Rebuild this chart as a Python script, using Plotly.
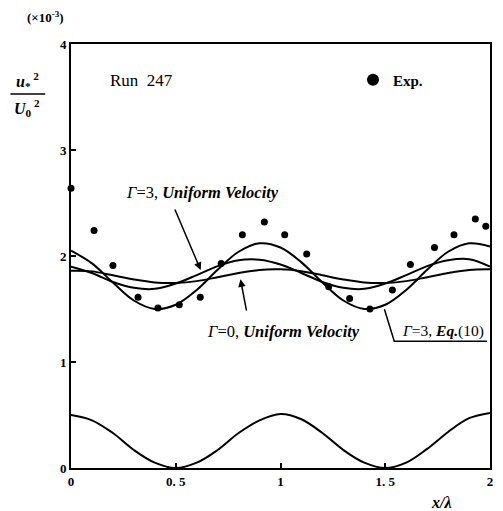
import plotly.graph_objects as go

# ---------------- data ----------------
x_grid = [0.0, 0.1, 0.2, 0.3, 0.4, 0.5, 0.6, 0.7, 0.8, 0.9, 1.0,
          1.1, 1.2, 1.3, 1.4, 1.5, 1.6, 1.7, 1.8, 1.9, 2.0]

gamma3_eq10 = [2.05, 1.93, 1.75, 1.58, 1.50, 1.54, 1.68, 1.87, 2.04, 2.12, 2.08,
               1.94, 1.75, 1.58, 1.50, 1.54, 1.68, 1.87, 2.04, 2.12, 2.09]

gamma3_uniform = [1.90, 1.84, 1.755, 1.70, 1.69, 1.74, 1.82, 1.905, 1.96, 1.965, 1.92,
                  1.84, 1.755, 1.70, 1.69, 1.74, 1.82, 1.905, 1.96, 1.97, 1.90]

gamma0_uniform = [1.86, 1.855, 1.818, 1.779, 1.751, 1.746, 1.763, 1.80, 1.84, 1.869, 1.874,
                  1.857, 1.818, 1.779, 1.751, 1.746, 1.763, 1.80, 1.84, 1.869, 1.874]

surface = [0.50, 0.45, 0.33, 0.17, 0.05, 0.0, 0.05, 0.17, 0.33, 0.45, 0.51,
           0.46, 0.33, 0.17, 0.05, 0.0, 0.05, 0.18, 0.34, 0.47, 0.52]

exp_x = [0.00, 0.11, 0.20, 0.32, 0.415, 0.517, 0.617, 0.717, 0.818, 0.923, 1.02,
         1.125, 1.23, 1.33, 1.427, 1.534, 1.62, 1.735, 1.828, 1.93, 1.98]
exp_y = [2.64, 2.24, 1.91, 1.61, 1.51, 1.54, 1.61, 1.93, 2.20, 2.32, 2.20,
         2.02, 1.71, 1.60, 1.50, 1.68, 1.92, 2.08, 2.20, 2.35, 2.28]

x_ticks = [0, 0.5, 1, 1.5, 2]
x_tick_labels = ["0", "0. 5", "1", "1. 5", "2"]
y_ticks = [0, 1, 2, 3, 4]
y_tick_labels = ["0", "1", "2", "3", "4"]

# ---------------- figure ----------------
SERIF = "Liberation Serif"
fig = go.Figure()

line_style = dict(color="black", width=2, shape="spline")
for name, ys in [("Γ=3, Eq.(10)", gamma3_eq10),
                 ("Γ=3, Uniform Velocity", gamma3_uniform),
                 ("Γ=0, Uniform Velocity", gamma0_uniform),
                 ("surface", surface)]:
    fig.add_trace(go.Scatter(x=x_grid, y=ys, mode="lines", line=line_style,
                             name=name, showlegend=False, hoverinfo="skip"))

fig.add_trace(go.Scatter(x=exp_x, y=exp_y, mode="markers", name="<b>Exp.</b>",
                         marker=dict(color="black", size=7), showlegend=True,
                         cliponaxis=False))

axis_common = dict(showgrid=False, zeroline=False, showline=True, linecolor="black",
                   linewidth=2, mirror=True, ticks="inside", ticklen=5,
                   tickcolor="black", tickwidth=1.5,
                   tickfont=dict(family=SERIF, size=13, color="black"))

fig.update_xaxes(range=[0, 2], tickvals=x_ticks,
                 ticktext=["<b>%s</b>" % t for t in x_tick_labels], **axis_common)
fig.update_yaxes(range=[0, 4], tickvals=y_ticks,
                 ticktext=["<b>%s</b>" % t for t in y_tick_labels], **axis_common)

ann = []
txt_font = dict(family=SERIF, size=16.5, color="black")
C = dict(xanchor="center", yanchor="middle", showarrow=False)
ann.append(dict(x=0.336, y=3.66, xref="x", yref="y", text="Run  247",
                font=dict(family=SERIF, size=17, color="black"), **C))
ann.append(dict(x=0.628, y=2.60, xref="x", yref="y",
                text="<i>Γ</i>=3, <b><i>Uniform Velocity</i></b>",
                font=txt_font, **C))
ann.append(dict(x=0.619, y=1.868, ax=0.493, ay=2.453, xref="x", yref="y",
                axref="x", ayref="y", text="", showarrow=True, arrowhead=2,
                arrowsize=1, arrowwidth=1.5, arrowcolor="black"))
ann.append(dict(x=1.014, y=1.29, xref="x", yref="y",
                text="<i>Γ</i>=0, <b><i>Uniform Velocity</i></b>",
                font=txt_font, **C))
ann.append(dict(x=0.809, y=1.78, ax=0.839, ay=1.47, xref="x", yref="y",
                axref="x", ayref="y", text="", showarrow=True, arrowhead=2,
                arrowsize=1, arrowwidth=1.5, arrowcolor="black"))
ann.append(dict(x=1.775, y=1.29, xref="x", yref="y",
                text="<i>Γ</i>=3, <b><i>Eq.</i></b>(10)",
                font=dict(family=SERIF, size=15.5, color="black"), **C))
# axis labels
ann.append(dict(x=-0.0616, y=1.0637, xref="paper", yref="paper",
                text="<b>(×10<sup>-3</sup>)</b>",
                font=dict(family=SERIF, size=13, color="black"), **C))
ann.append(dict(x=-0.104, y=0.912, xref="paper", yref="paper",
                text="<b><i>u</i><sub>*</sub><sup> 2</sup></b>",
                font=dict(family=SERIF, size=16, color="black"), **C))
ann.append(dict(x=-0.104, y=0.850, xref="paper", yref="paper",
                text="<b><i>U</i><sub>0</sub><sup> 2</sup></b>",
                font=dict(family=SERIF, size=16, color="black"), **C))
ann.append(dict(x=0.884, y=-0.0825, xref="paper", yref="paper",
                text="<b><i>x/λ</i></b>",
                font=dict(family=SERIF, size=16, color="black"), **C))

shapes = [
    dict(type="line", xref="paper", yref="paper", x0=-0.1445, x1=-0.0616,
         y0=0.882, y1=0.882, line=dict(color="black", width=1.5)),
    dict(type="path", xref="x", yref="y",
         path="M 1.496,1.497 L 1.543,1.195 L 1.986,1.195",
         line=dict(color="black", width=1.5)),
]

fig.update_layout(
    width=503, height=511,
    margin=dict(l=71, r=10, t=44, b=43),
    paper_bgcolor="white", plot_bgcolor="white",
    annotations=ann, shapes=shapes,
    legend=dict(x=0.673, y=0.915, xanchor="left", yanchor="middle",
                itemsizing="constant", bgcolor="rgba(0,0,0,0)",
                font=dict(family=SERIF, size=15, color="black")),
)

fig.write_html("out.html")
